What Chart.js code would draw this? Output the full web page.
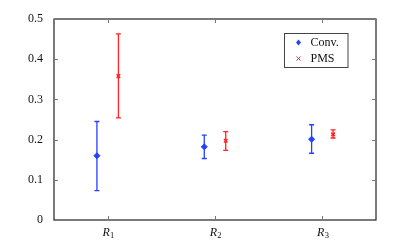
<!DOCTYPE html>
<html>
<head>
<meta charset="utf-8">
<script src="https://cdn.jsdelivr.net/npm/chart.js@4/dist/chart.umd.min.js"></script>
<style>
  html, body { margin: 0; padding: 0; background: #fff; }
</style>
</head>
<body>
<canvas id="grafico" width="415" height="248"></canvas>
<script>
// Dados
const categories = ['R₁', 'R₂', 'R₃'];
const convMean = [0.160, 0.182, 0.201];
const convLow = [0.073, 0.153, 0.166];
const convHigh = [0.245, 0.211, 0.237];
const pmsMean = [0.358, 0.197, 0.213];
const pmsLow = [0.254, 0.173, 0.204];
const pmsHigh = [0.463, 0.220, 0.224];
const yTickLabels = ['0', '0.1', '0.2', '0.3', '0.4', '0.5'];

const BLUE = 'rgb(35,65,255)';
const RED = 'rgb(255,35,35)';
const SERIF = '"Liberation Serif", "DejaVu Serif", serif';

function buildPoints(mean, low, high, shift) {
    return mean.map((v, i) => ({ x: i + 1 + shift, y: v, lo: low[i], hi: high[i] }));
}

/** Separa "R₁" em base itálica e índice. */
function splitLabel(lbl) {
    const base = lbl.slice(0, -1);
    const code = lbl.charCodeAt(lbl.length - 1);
    const sub = (code >= 0x2080 && code <= 0x2089) ? String(code - 0x2080) : lbl.slice(-1);
    return { base, sub };
}

/** Barras de erro, moldura, ticks internos, rótulos do eixo x e legenda. */
const extras = {
    id: 'extras',
    beforeDatasetsDraw(chart) {
        const { ctx, scales: { x, y } } = chart;
        ctx.save();
        chart.data.datasets.forEach(ds => {
            ctx.strokeStyle = ds.borderColor;
            ctx.lineWidth = 1.3;
            ds.data.forEach(p => {
                const px = x.getPixelForValue(p.x);
                const top = y.getPixelForValue(p.hi);
                const bot = y.getPixelForValue(p.lo);
                ctx.beginPath();
                ctx.moveTo(px, top); ctx.lineTo(px, bot);
                ctx.moveTo(px - 2.5, top); ctx.lineTo(px + 2.5, top);
                ctx.moveTo(px - 2.5, bot); ctx.lineTo(px + 2.5, bot);
                ctx.stroke();
            });
        });
        ctx.restore();
    },
    afterDraw(chart) {
        const { ctx, chartArea: a, scales: { x, y } } = chart;
        ctx.save();
        ctx.strokeStyle = '#222';
        ctx.lineWidth = 1.2;
        ctx.strokeRect(a.left, a.top, a.right - a.left, a.bottom - a.top);

        // ticks para dentro
        ctx.strokeStyle = '#777';
        ctx.lineWidth = 1;
        ctx.beginPath();
        x.ticks.forEach(t => {
            const px = Math.round(x.getPixelForValue(t.value)) + 0.5;
            ctx.moveTo(px, a.bottom); ctx.lineTo(px, a.bottom - 4);
            ctx.moveTo(px, a.top); ctx.lineTo(px, a.top + 4);
        });
        y.ticks.forEach(t => {
            const py = Math.round(y.getPixelForValue(t.value)) + 0.5;
            ctx.moveTo(a.left, py); ctx.lineTo(a.left + 4, py);
            ctx.moveTo(a.right, py); ctx.lineTo(a.right - 4, py);
        });
        ctx.stroke();

        // rótulos do eixo x: R itálico com índice
        ctx.fillStyle = '#111';
        ctx.textBaseline = 'alphabetic';
        ctx.textAlign = 'left';
        x.ticks.forEach(t => {
            const { base, sub } = splitLabel(categories[t.value - 1]);
            ctx.font = 'italic 12px ' + SERIF;
            const wb = ctx.measureText(base).width;
            ctx.font = '8.5px ' + SERIF;
            const ws = ctx.measureText(sub).width;
            const px = x.getPixelForValue(t.value);
            const start = px - (wb + ws) / 2 + 0.5;
            ctx.font = 'italic 12px ' + SERIF;
            ctx.fillText(base, start, a.bottom + 15.5);
            ctx.font = '8.5px ' + SERIF;
            ctx.fillText(sub, start + wb + 0.3, a.bottom + 17.5);
        });

        // legenda
        const lx = 284.5, ly = 33.5, lw = 63.5, lh = 34;
        ctx.fillStyle = '#fff';
        ctx.fillRect(lx, ly, lw, lh);
        ctx.strokeStyle = '#444';
        ctx.lineWidth = 1;
        ctx.strokeRect(lx, ly, lw, lh);
        ctx.font = '12px ' + SERIF;
        ctx.textBaseline = 'middle';
        chart.data.datasets.forEach((ds, i) => {
            const cy = ly + 9 + i * 16;
            const mx = lx + 14;
            ctx.fillStyle = ds.backgroundColor;
            ctx.strokeStyle = ds.borderColor;
            if (ds.pointStyle === 'rectRot') {
                ctx.beginPath();
                ctx.moveTo(mx, cy - 3); ctx.lineTo(mx + 2.5, cy);
                ctx.lineTo(mx, cy + 3); ctx.lineTo(mx - 2.5, cy);
                ctx.closePath(); ctx.fill();
            } else {
                ctx.lineWidth = 1;
                ctx.beginPath();
                ctx.moveTo(mx - 2, cy - 2); ctx.lineTo(mx + 2, cy + 2);
                ctx.moveTo(mx + 2, cy - 2); ctx.lineTo(mx - 2, cy + 2);
                ctx.stroke();
            }
            ctx.fillStyle = '#111';
            ctx.fillText(ds.label, lx + 26, cy + 0.5);
        });
        ctx.restore();
    }
};

new Chart(document.getElementById('grafico'), {
    type: 'scatter',
    data: {
        datasets: [
            {
                label: 'Conv.',
                data: buildPoints(convMean, convLow, convHigh, -0.1),
                borderColor: BLUE, backgroundColor: BLUE,
                pointStyle: 'rectRot', pointRadius: 3, borderWidth: 1
            },
            {
                label: 'PMS',
                data: buildPoints(pmsMean, pmsLow, pmsHigh, 0.1),
                borderColor: RED, backgroundColor: RED,
                pointStyle: 'crossRot', pointRadius: 2.5, borderWidth: 1.5
            }
        ]
    },
    options: {
        responsive: false,
        maintainAspectRatio: false,
        animation: false,
        devicePixelRatio: 1,
        layout: { padding: { left: 0, right: 39, top: 19, bottom: 0 } },
        plugins: { legend: { display: false }, tooltip: { enabled: false } },
        scales: {
            x: {
                type: 'linear', min: 0.5, max: 3.5,
                afterBuildTicks: s => { s.ticks = categories.map((c, i) => ({ value: i + 1 })); },
                afterFit: s => { s.height = 28; },
                grid: { display: false },
                border: { display: false },
                ticks: { display: false }
            },
            y: {
                min: 0, max: 0.5,
                afterBuildTicks: s => { s.ticks = yTickLabels.map((l, i) => ({ value: i * 0.1 })); },
                afterFit: s => { s.width = 54; },
                grid: { display: false },
                border: { display: false },
                ticks: {
                    padding: 3,
                    color: '#111',
                    font: { family: SERIF, size: 12 },
                    callback: (v, i) => yTickLabels[i]
                }
            }
        }
    },
    plugins: [extras]
});
</script>
</body>
</html>
